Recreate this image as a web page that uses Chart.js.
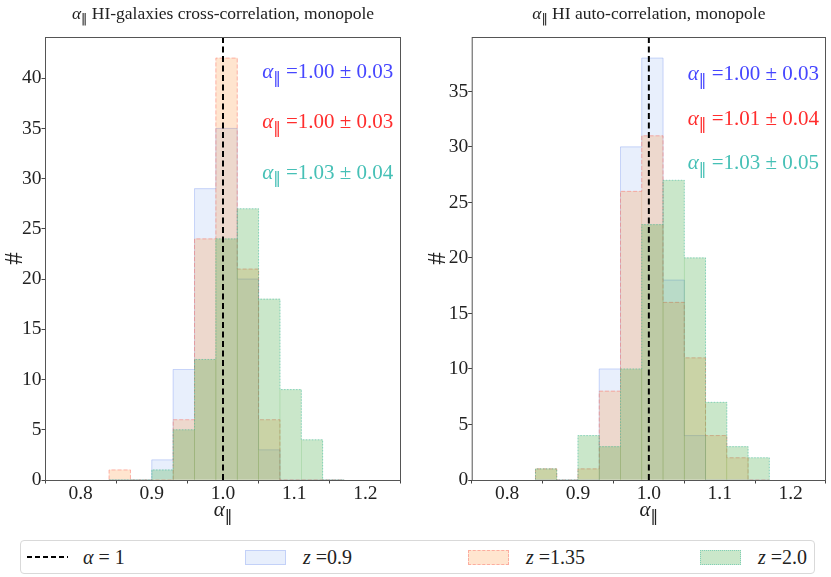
<!DOCTYPE html>
<html lang="en">
<head>
<meta charset="UTF-8" />
<title>alpha_par histograms</title>
<script src="https://cdn.jsdelivr.net/npm/chart.js"></script>
<style>
  body { margin: 0; background: #fff; width: 831px; height: 577px; position: relative; overflow: hidden;
         font-family: "Liberation Serif", "DejaVu Serif", serif; color: #222; }
  canvas { position: absolute; top: 0; }
  #legend { position: absolute; left: 20px; top: 540px; width: 795px; height: 34px;
            border: 1px solid #d9d9d9; border-radius: 4px; box-sizing: border-box; }
  .item { position: absolute; top: 0; height: 32px; display: flex; align-items: center; font-size: 20px; }
  .patch { width: 41px; height: 15px; box-sizing: border-box; margin-right: 17px; }
</style>
</head>
<body>
  <canvas id="crossChart" width="415" height="530" style="left:0"></canvas>
  <canvas id="autoChart" width="416" height="530" style="left:415px"></canvas>

  <div id="legend">
    <div class="item" style="left:6px">
      <svg width="41" height="4" style="margin-right:15px"><line x1="0" y1="2" x2="41" y2="2" stroke="#000" stroke-width="2.2" stroke-dasharray="5,3"/></svg>
      <span><i>α</i> = 1</span>
    </div>
    <div class="item" style="left:224px">
      <div class="patch" style="background:rgba(100,149,237,0.15);border:1px solid rgba(110,140,240,0.3)"></div>
      <span><i>z</i> =0.9</span>
    </div>
    <div class="item" style="left:447px">
      <div class="patch" style="background:rgba(255,127,14,0.2);border:1px dashed rgba(250,90,90,0.4)"></div>
      <span><i>z</i> =1.35</span>
    </div>
    <div class="item" style="left:679px">
      <div class="patch" style="background:rgba(44,160,44,0.25);border:1px dotted rgba(40,180,160,0.45)"></div>
      <span><i>z</i> =2.0</span>
    </div>
  </div>

<script>
  // histogram bins (centres, width 0.03)
  const binCenters = [0.855, 0.885, 0.915, 0.945, 0.975, 1.005, 1.035, 1.065, 1.095, 1.125, 1.155];
  const xTicks = [0.8, 0.9, 1.0, 1.1, 1.2];
  const crossTicksY = [0, 5, 10, 15, 20, 25, 30, 35, 40];
  const autoTicksY = [0, 5, 10, 15, 20, 25, 30, 35];

  // HI-galaxies cross-correlation counts
  const crossZ09  = [0, 0, 2, 11, 29, 35, 20, 3, 0, 0, 0];
  const crossZ135 = [1, 0, 0, 6, 24, 42, 21, 6, 0, 0, 0];
  const crossZ20  = [0, 0, 1, 5, 12, 24, 27, 18, 9, 4, 0];

  // HI auto-correlation counts
  const autoZ09  = [0, 0, 0, 10, 30, 38, 18, 4, 0, 0, 0];
  const autoZ135 = [1, 0, 1, 8, 26, 31, 16, 11, 4, 2, 0];
  const autoZ20  = [1, 0, 4, 3, 10, 23, 27, 20, 7, 3, 2];

  const crossFits = ['=1.00 ± 0.03', '=1.00 ± 0.03', '=1.03 ± 0.04'];
  const autoFits  = ['=1.00 ± 0.03', '=1.01 ± 0.04', '=1.03 ± 0.05'];

  const FAM = '"Liberation Serif", "DejaVu Serif", serif';
  const fitColors = ['rgb(70,70,255)', 'rgb(255,45,45)', 'rgb(70,192,182)'];
  const series = [
    { fill: 'rgba(100,149,237,0.15)', edge: 'rgba(110,140,240,0.3)', dash: [] },
    { fill: 'rgba(255,127,14,0.2)',   edge: 'rgba(250,90,90,0.4)',   dash: [4, 2] },
    { fill: 'rgba(44,160,44,0.25)',   edge: 'rgba(40,180,160,0.45)', dash: [1.5, 1.5] },
  ];

  // draws "α‖" followed by plain text
  function drawAlpha(ctx, x, baseline, size, color, rest, align) {
    ctx.save();
    ctx.fillStyle = color;
    ctx.textBaseline = 'alphabetic';
    ctx.textAlign = 'left';
    const fA = `italic ${size}px ${FAM}`, fS = `${size * 0.72}px "DejaVu Sans", sans-serif`, fR = `${size}px ${FAM}`;
    ctx.font = fA; const wA = ctx.measureText('α').width;
    ctx.font = fS; const wS = ctx.measureText('‖').width;
    ctx.font = fR; const wR = ctx.measureText(rest).width;
    let x0 = align === 'center' ? x - (wA + wS + wR) / 2 : x;
    ctx.font = fA; ctx.fillText('α', x0, baseline);
    ctx.font = fS; ctx.fillText('‖', x0 + wA, baseline + size * 0.22);
    ctx.font = fR; ctx.fillText(rest, x0 + wA + wS, baseline);
    ctx.restore();
  }

  const panelDecor = {
    id: 'panelDecor',
    // step outline of each histogram, like a stepfilled edge
    afterDatasetDraw(chart, args) {
      const ds = chart.data.datasets[args.index];
      if (!ds.edgeColor) return;
      const ctx = chart.ctx;
      const els = args.meta.data.map(el => el.getProps(['x', 'y', 'base', 'width'], true));
      ctx.save();
      ctx.strokeStyle = ds.edgeColor;
      ctx.lineWidth = 1;
      ctx.setLineDash(ds.edgeDash);
      ctx.beginPath();
      ctx.moveTo(els[0].x - els[0].width / 2, els[0].base);
      els.forEach(e => {
        ctx.lineTo(e.x - e.width / 2, e.y);
        ctx.lineTo(e.x + e.width / 2, e.y);
      });
      const last = els[els.length - 1];
      ctx.lineTo(last.x + last.width / 2, last.base);
      ctx.stroke();
      ctx.restore();
    },
    afterDraw(chart, args, opts) {
      const ctx = chart.ctx;
      const area = chart.chartArea;
      const { x, y } = chart.scales;
      ctx.save();
      ctx.strokeStyle = '#555';
      ctx.lineWidth = 1;
      ctx.strokeRect(area.left + 0.5, area.top + 0.5, area.right - area.left - 1, area.bottom - area.top);
      ctx.restore();
      const cx = (area.left + area.right) / 2;
      drawAlpha(ctx, cx, 19, 17.5, '#222', ' ' + opts.title, 'center');
      drawAlpha(ctx, cx, 516, 21, '#222', '', 'center');
      opts.fits.forEach((t, k) => {
        drawAlpha(ctx, x.getPixelForValue(1.055), y.getPixelForValue(opts.fitY[k]), 21, fitColors[k], ' ' + t, 'left');
      });
    }
  };

  function makeChart(id, counts, yMax, yTicks, title, fits, fitY, yAxisWidth, padRight, yTitlePad) {
    const datasets = counts.map((c, k) => ({
      type: 'bar',
      data: binCenters.map((bx, i) => ({ x: bx, y: c[i] })),
      backgroundColor: series[k].fill,
      borderWidth: 0,
      edgeColor: series[k].edge,
      edgeDash: series[k].dash,
      barPercentage: 1,
      categoryPercentage: 1,
      grouped: false,
      order: 3 - k,
    }));
    datasets.push({
      type: 'line',
      data: [{ x: 1, y: 0 }, { x: 1, y: yMax }],
      borderColor: '#000',
      borderWidth: 2,
      borderDash: [6, 3.5],
      pointRadius: 0,
      order: 0,
    });
    const tickFont = { family: FAM, size: 19.5, lineHeight: 1 };
    return new Chart(document.getElementById(id), {
      type: 'bar',
      data: { datasets },
      plugins: [panelDecor],
      options: {
        responsive: false,
        animation: false,
        layout: { padding: { top: 37, right: padRight, left: 0, bottom: 0 } },
        plugins: {
          legend: { display: false },
          tooltip: { enabled: false },
          panelDecor: { title, fits, fitY },
        },
        scales: {
          x: {
            type: 'linear', min: 0.75, max: 1.25, offset: false,
            afterBuildTicks: s => { s.ticks = xTicks.map(v => ({ value: v })); },
            afterFit: s => { s.height = 50; },
            ticks: { callback: v => v.toFixed(1), font: tickFont, color: '#222', padding: 1, maxRotation: 0, autoSkip: false },
            grid: { drawOnChartArea: false, drawTicks: true, tickLength: 3.5, color: '#444' },
            border: { display: false },
          },
          y: {
            min: 0, max: yMax,
            afterBuildTicks: s => { s.ticks = yTicks.map(v => ({ value: v })); },
            afterFit: s => { s.width = yAxisWidth; },
            ticks: { font: tickFont, color: '#222', padding: 0, autoSkip: false },
            grid: { drawOnChartArea: false, drawTicks: true, tickLength: 3.5, color: '#444' },
            border: { display: false },
            title: { display: true, text: '#', font: { family: FAM, size: 25 }, color: '#222', padding: { top: yTitlePad, bottom: 0 } },
          },
        },
      },
    });
  }

  makeChart('crossChart', [crossZ09, crossZ135, crossZ20], 44.1, crossTicksY,
    'HI-galaxies cross-correlation, monopole', crossFits, [40, 35, 30], 45, 14, 0);
  makeChart('autoChart', [autoZ09, autoZ135, autoZ20], 39.9, autoTicksY,
    'HI auto-correlation, monopole', autoFits, [36, 32, 28], 56.7, 5, 8);
</script>
</body>
</html>
